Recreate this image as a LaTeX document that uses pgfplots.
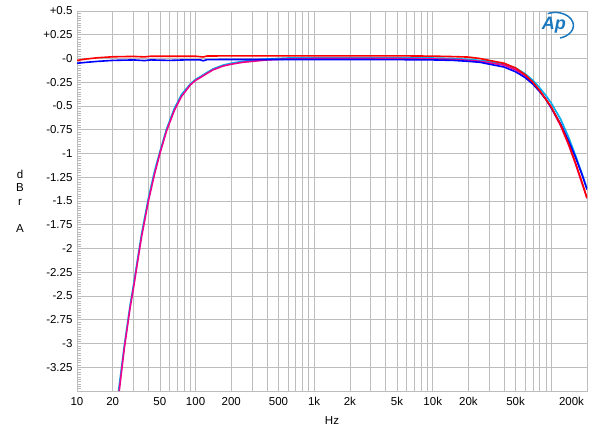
\documentclass[border=0pt]{standalone}
\usepackage{pgfplots}
\pgfplotsset{compat=1.18}
\usepackage{fontspec}
\setmainfont{Liberation Sans}
\definecolor{apblue}{HTML}{1A78BE}
\definecolor{gridgray}{HTML}{BDBDBD}

\begin{document}
\begin{tikzpicture}
\fontsize{11.5bp}{13.8bp}\selectfont
\begin{axis}[
  scale only axis,
  width=510bp, height=380bp,
  xmode=log,
  xmin=10, xmax=200000,
  ymin=-3.5, ymax=0.5,
  xtick={10,20,30,40,50,60,70,80,90,100,200,300,400,500,600,700,800,900,1000,2000,3000,4000,5000,6000,7000,8000,9000,10000,20000,30000,40000,50000,60000,70000,80000,90000,100000},
  xticklabels={10,20,{},{},50,{},{},{},{},100,200,{},{},500,{},{},{},{},1k,2k,{},{},5k,{},{},{},{},10k,20k,{},{},50k,{},{},{},{},{}},
  extra x ticks={200000},
  extra x tick labels={200k},
  extra x tick style={xticklabel style={anchor=north east, xshift=1bp}},
  ytick={-3.5,-3.25,-3,-2.75,-2.5,-2.25,-2,-1.75,-1.5,-1.25,-1,-0.75,-0.5,-0.25,0,0.25,0.5},
  yticklabels={{},-3.25,-3,-2.75,-2.5,-2.25,-2,-1.75,-1.5,-1.25,-1,-0.75,-0.5,-0.25,-0,+0.25,+0.5},
  minor y tick num=9,
  ytick pos=left, xtick pos=bottom,
  tick align=inside,
  major tick length=0pt,
  minor tick length=4bp,
  minor y tick style={gray!55, line width=0.4bp},
  grid=major,
  major grid style={gridgray, line width=0.7bp},
  axis line style={gridgray, line width=0.7bp},
  xticklabel style={yshift=-2.5bp},
  yticklabel style={xshift=-0.5bp},
  xlabel={Hz},
  xlabel style={yshift=-3bp},
  /pgf/number format/assume math mode=true,
  clip=true,
]
% cyan
\addplot[cyan, line width=1.6bp] coordinates {
(22.4,-3.5)(25,-3.03)(28,-2.60)(30,-2.38)(33,-2.05)(35,-1.85)(40,-1.47)(45,-1.19)(50,-0.98)(57,-0.74)(66,-0.53)(76,-0.38)(90,-0.27)(100,-0.22)(110,-0.19)(120,-0.16)(140,-0.11)(170,-0.07)(200,-0.05)(250,-0.03)(300,-0.02)(400,-0.005)(600,0.005)(1000,0.01)(2000,0.01)(5000,0.01)(10000,0.005)(15000,0)(20000,-0.01)(25000,-0.02)(30000,-0.03)(40000,-0.06)(50000,-0.10)(60000,-0.16)(70000,-0.23)(80000,-0.31)(90000,-0.39)(100000,-0.47)(120000,-0.64)(140000,-0.83)(160000,-1.02)(180000,-1.20)(200000,-1.37)
};
% magenta
\addplot[magenta, line width=1.6bp] coordinates {
(22.7,-3.5)(25,-3.06)(28,-2.63)(30,-2.41)(33,-2.08)(35,-1.88)(40,-1.50)(45,-1.22)(50,-1.00)(57,-0.76)(66,-0.55)(76,-0.40)(90,-0.28)(100,-0.23)(110,-0.20)(120,-0.17)(140,-0.12)(170,-0.08)(200,-0.06)(250,-0.04)(300,-0.03)(400,-0.015)(600,-0.005)(1000,0)(2000,0)(5000,0)(10000,-0.005)(15000,-0.01)(20000,-0.02)(25000,-0.03)(30000,-0.045)(40000,-0.07)(50000,-0.12)(60000,-0.18)(70000,-0.26)(80000,-0.34)(90000,-0.43)(100000,-0.52)(120000,-0.71)(140000,-0.91)(160000,-1.11)(180000,-1.30)(200000,-1.47)
};
% blue
\addplot[blue, line width=1.6bp] coordinates {
(10,-0.05)(12,-0.04)(15,-0.03)(20,-0.02)(30,-0.015)(37,-0.022)(42,-0.015)(60,-0.02)(80,-0.015)(110,-0.015)(116,-0.024)(125,-0.012)(200,-0.01)(500,-0.01)(1000,-0.01)(2000,-0.01)(5000,-0.012)(10000,-0.015)(15000,-0.02)(20000,-0.03)(25000,-0.04)(30000,-0.06)(40000,-0.09)(50000,-0.14)(60000,-0.20)(70000,-0.27)(80000,-0.35)(90000,-0.43)(100000,-0.52)(120000,-0.69)(140000,-0.87)(160000,-1.04)(180000,-1.21)(200000,-1.38)
};
% red
\addplot[red, line width=1.6bp] coordinates {
(10,-0.02)(12,-0.005)(15,0.008)(20,0.018)(30,0.022)(37,0.017)(42,0.024)(60,0.024)(100,0.024)(116,0.016)(125,0.026)(200,0.028)(500,0.028)(1000,0.028)(2000,0.028)(5000,0.028)(10000,0.025)(15000,0.02)(20000,0.015)(25000,0.0)(30000,-0.02)(40000,-0.05)(50000,-0.10)(60000,-0.17)(70000,-0.25)(80000,-0.34)(90000,-0.43)(100000,-0.51)(120000,-0.70)(140000,-0.90)(160000,-1.10)(180000,-1.29)(200000,-1.47)
};
% AP logo
\node[text=apblue, font=\itshape\bfseries\fontsize{18bp}{18bp}\selectfont, inner sep=0pt] at (rel axis cs:0.935,0.962) {Ap};
\draw[apblue, line width=1.5bp] ([shift={(-75:18bp and 13bp)}]rel axis cs:0.938,0.962) arc[start angle=-75, end angle=115, x radius=18bp, y radius=13bp];
\end{axis}
\node[align=center, inner sep=0pt, font=\fontsize{11.5bp}{13.5bp}\selectfont] at ([xshift=-57bp]current axis.west) {d\\B\\r\\[13.5bp]A};
\pgfresetboundingbox
\path ([shift={(-77bp,-46bp)}]current axis.south west) rectangle ([shift={(13bp,11bp)}]current axis.north east);
\end{tikzpicture}
\end{document}
